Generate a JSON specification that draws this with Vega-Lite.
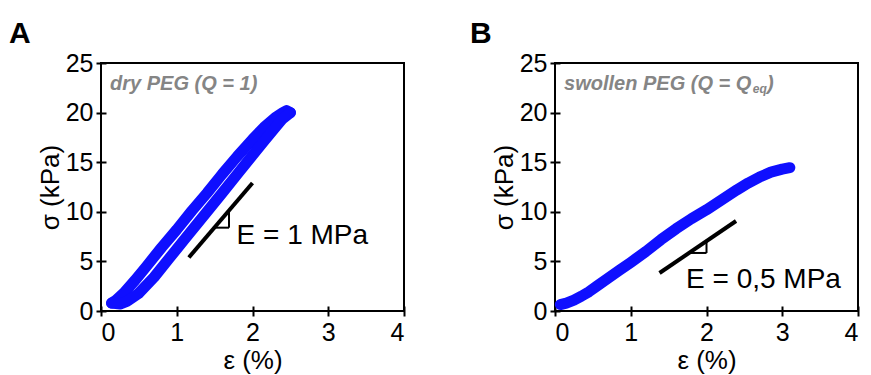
{
  "$schema": "https://vega.github.io/schema/vega-lite/v6.json",
  "padding": {"left": 8, "top": 18, "right": 5, "bottom": 5},
  "background": "white",
  "spacing": 63,
  "config": {
    "view": {"stroke": "black", "strokeWidth": 2},
    "font": "Liberation Sans",
    "axis": {"grid": false, "domain": false, "tickColor": "black", "labelColor": "black", "titleColor": "black", "labelFont": "Liberation Sans", "titleFont": "Liberation Sans", "labelFontSize": 25, "titleFontSize": 26, "titleFontWeight": "normal"}
  },
  "datasets": {
    "curveA": [
      {"branch": "unload", "strain": 0.14, "stress": 0.8},
      {"branch": "unload", "strain": 0.2, "stress": 1.1},
      {"branch": "unload", "strain": 0.3, "stress": 1.8},
      {"branch": "unload", "strain": 0.45, "stress": 3.1},
      {"branch": "unload", "strain": 0.6, "stress": 4.5},
      {"branch": "unload", "strain": 0.8, "stress": 6.4},
      {"branch": "unload", "strain": 1.0, "stress": 8.2},
      {"branch": "unload", "strain": 1.2, "stress": 10.1},
      {"branch": "unload", "strain": 1.4, "stress": 11.9},
      {"branch": "unload", "strain": 1.6, "stress": 13.8},
      {"branch": "unload", "strain": 1.8, "stress": 15.6},
      {"branch": "unload", "strain": 2.0, "stress": 17.3},
      {"branch": "unload", "strain": 2.15, "stress": 18.5},
      {"branch": "unload", "strain": 2.3, "stress": 19.5},
      {"branch": "unload", "strain": 2.4, "stress": 20.0},
      {"branch": "unload", "strain": 2.45, "stress": 20.2},
      {"branch": "unload", "strain": 2.5, "stress": 20.0},
      {"branch": "load", "strain": 0.14, "stress": 0.8},
      {"branch": "load", "strain": 0.25, "stress": 0.7},
      {"branch": "load", "strain": 0.35, "stress": 1.0},
      {"branch": "load", "strain": 0.5, "stress": 1.8},
      {"branch": "load", "strain": 0.7, "stress": 3.4},
      {"branch": "load", "strain": 0.9, "stress": 5.3},
      {"branch": "load", "strain": 1.1, "stress": 7.2},
      {"branch": "load", "strain": 1.41, "stress": 10.1},
      {"branch": "load", "strain": 1.6, "stress": 11.9},
      {"branch": "load", "strain": 1.8, "stress": 13.8},
      {"branch": "load", "strain": 2.0, "stress": 15.7},
      {"branch": "load", "strain": 2.15, "stress": 17.1},
      {"branch": "load", "strain": 2.3, "stress": 18.5},
      {"branch": "load", "strain": 2.4, "stress": 19.4},
      {"branch": "load", "strain": 2.5, "stress": 20.0}
    ],
    "curveB": [
      {"strain": 0.07, "stress": 0.65},
      {"strain": 0.15, "stress": 0.8},
      {"strain": 0.25, "stress": 1.1},
      {"strain": 0.35, "stress": 1.5},
      {"strain": 0.45, "stress": 1.95},
      {"strain": 0.55, "stress": 2.5},
      {"strain": 0.7, "stress": 3.3},
      {"strain": 0.85, "stress": 4.1},
      {"strain": 1.0, "stress": 4.9},
      {"strain": 1.2, "stress": 6.0},
      {"strain": 1.4, "stress": 7.2},
      {"strain": 1.6, "stress": 8.3},
      {"strain": 1.8, "stress": 9.3},
      {"strain": 2.0, "stress": 10.2},
      {"strain": 2.2, "stress": 11.2},
      {"strain": 2.4, "stress": 12.2},
      {"strain": 2.55, "stress": 12.9},
      {"strain": 2.7, "stress": 13.5},
      {"strain": 2.85, "stress": 14.0},
      {"strain": 3.0, "stress": 14.3},
      {"strain": 3.1, "stress": 14.45}
    ],
    "slopeA": [{"x1": 1.16, "y1": 5.4, "x2": 2.0, "y2": 12.9}],
    "legsA": [
      {"x1": 1.5, "y1": 8.4, "x2": 1.69, "y2": 8.4},
      {"x1": 1.69, "y1": 8.4, "x2": 1.69, "y2": 10.1}
    ],
    "slopeB": [{"x1": 1.38, "y1": 3.83, "x2": 2.39, "y2": 9.07}],
    "legsB": [
      {"x1": 1.77, "y1": 5.85, "x2": 2.0, "y2": 5.85},
      {"x1": 2.0, "y1": 5.85, "x2": 2.0, "y2": 7.05}
    ],
    "noteA": [{"x": 0.12, "y": 22.3, "label": "dry PEG (Q = 1)"}],
    "modA": [{"x": 1.79, "y": 6.75, "label": "E = 1 MPa"}],
    "noteB": [
      {"x": 0.12, "y": 22.3, "label": "swollen PEG (Q = Q"},
      {"x": 2.8, "y": 22.3, "label": ")"}
    ],
    "subB": [{"x": 2.61, "y": 21.95, "label": "eq"}],
    "modB": [{"x": 1.73, "y": 2.3, "label": "E = 0,5 MPa"}]
  },
  "hconcat": [
    {
      "width": 303,
      "height": 248,
      "title": {"text": "A", "anchor": "start", "frame": "group", "dx": -92, "fontSize": 30, "fontWeight": "bold", "font": "Liberation Sans", "color": "black", "offset": 2},
      "layer": [
        {
          "data": {"name": "curveA"},
          "mark": {"type": "line", "color": "#0f0fff", "strokeWidth": 11, "strokeCap": "round", "strokeJoin": "round"},
          "encoding": {
            "x": {"field": "strain", "type": "quantitative", "scale": {"domain": [0, 4], "nice": false}, "axis": {"title": "ε (%)", "values": [0, 0.5, 1, 1.5, 2, 2.5, 3, 3.5, 4], "labelExpr": "datum.value % 1 ? '' : datum.label", "tickSize": {"condition": {"test": "datum.value % 1 !== 0", "value": 7}, "value": 10}, "tickWidth": 2, "offset": -5, "labelPadding": 4, "titlePadding": 2, "format": "d"}},
            "y": {"field": "stress", "type": "quantitative", "scale": {"domain": [0, 25], "nice": false}, "axis": {"title": "σ (kPa)", "values": [0, 2.5, 5, 7.5, 10, 12.5, 15, 17.5, 20, 22.5, 25], "labelExpr": "datum.value % 5 ? '' : datum.label", "tickSize": {"condition": {"test": "datum.value % 5 !== 0", "value": 7}, "value": 10}, "tickWidth": 2, "offset": -5, "labelPadding": 3, "titlePadding": 2, "format": "d"}},
            "detail": {"field": "branch"}
          }
        },
        {
          "data": {"name": "slopeA"},
          "mark": {"type": "rule", "color": "black", "strokeWidth": 4},
          "encoding": {
            "x": {"field": "x1", "type": "quantitative"},
            "y": {"field": "y1", "type": "quantitative"},
            "x2": {"field": "x2"},
            "y2": {"field": "y2"}
          }
        },
        {
          "data": {"name": "legsA"},
          "mark": {"type": "rule", "color": "black", "strokeWidth": 2},
          "encoding": {
            "x": {"field": "x1", "type": "quantitative"},
            "y": {"field": "y1", "type": "quantitative"},
            "x2": {"field": "x2"},
            "y2": {"field": "y2"}
          }
        },
        {
          "data": {"name": "noteA"},
          "mark": {"type": "text", "align": "left", "baseline": "alphabetic", "font": "Liberation Sans", "fontSize": 20, "fontWeight": "bold", "fontStyle": "italic", "color": "#858585"},
          "encoding": {
            "x": {"field": "x", "type": "quantitative"},
            "y": {"field": "y", "type": "quantitative"},
            "text": {"field": "label"}
          }
        },
        {
          "data": {"name": "modA"},
          "mark": {"type": "text", "align": "left", "baseline": "alphabetic", "font": "Liberation Sans", "fontSize": 28, "color": "black"},
          "encoding": {
            "x": {"field": "x", "type": "quantitative"},
            "y": {"field": "y", "type": "quantitative"},
            "text": {"field": "label"}
          }
        }
      ]
    },
    {
      "width": 303,
      "height": 248,
      "title": {"text": "B", "anchor": "start", "frame": "group", "dx": -85, "fontSize": 30, "fontWeight": "bold", "font": "Liberation Sans", "color": "black", "offset": 2},
      "layer": [
        {
          "data": {"name": "curveB"},
          "mark": {"type": "line", "color": "#0f0fff", "strokeWidth": 11, "strokeCap": "round", "strokeJoin": "round"},
          "encoding": {
            "x": {"field": "strain", "type": "quantitative", "scale": {"domain": [0, 4], "nice": false}, "axis": {"title": "ε (%)", "values": [0, 0.5, 1, 1.5, 2, 2.5, 3, 3.5, 4], "labelExpr": "datum.value % 1 ? '' : datum.label", "tickSize": {"condition": {"test": "datum.value % 1 !== 0", "value": 7}, "value": 10}, "tickWidth": 2, "offset": -5, "labelPadding": 4, "titlePadding": 2, "format": "d"}},
            "y": {"field": "stress", "type": "quantitative", "scale": {"domain": [0, 25], "nice": false}, "axis": {"title": "σ (kPa)", "values": [0, 2.5, 5, 7.5, 10, 12.5, 15, 17.5, 20, 22.5, 25], "labelExpr": "datum.value % 5 ? '' : datum.label", "tickSize": {"condition": {"test": "datum.value % 5 !== 0", "value": 7}, "value": 10}, "tickWidth": 2, "offset": -5, "labelPadding": 3, "titlePadding": 2, "format": "d"}}
          }
        },
        {
          "data": {"name": "slopeB"},
          "mark": {"type": "rule", "color": "black", "strokeWidth": 4},
          "encoding": {
            "x": {"field": "x1", "type": "quantitative"},
            "y": {"field": "y1", "type": "quantitative"},
            "x2": {"field": "x2"},
            "y2": {"field": "y2"}
          }
        },
        {
          "data": {"name": "legsB"},
          "mark": {"type": "rule", "color": "black", "strokeWidth": 2},
          "encoding": {
            "x": {"field": "x1", "type": "quantitative"},
            "y": {"field": "y1", "type": "quantitative"},
            "x2": {"field": "x2"},
            "y2": {"field": "y2"}
          }
        },
        {
          "data": {"name": "noteB"},
          "mark": {"type": "text", "align": "left", "baseline": "alphabetic", "font": "Liberation Sans", "fontSize": 20, "fontWeight": "bold", "fontStyle": "italic", "color": "#858585"},
          "encoding": {
            "x": {"field": "x", "type": "quantitative"},
            "y": {"field": "y", "type": "quantitative"},
            "text": {"field": "label"}
          }
        },
        {
          "data": {"name": "subB"},
          "mark": {"type": "text", "align": "left", "baseline": "alphabetic", "font": "Liberation Sans", "fontSize": 12, "fontWeight": "bold", "fontStyle": "italic", "color": "#858585"},
          "encoding": {
            "x": {"field": "x", "type": "quantitative"},
            "y": {"field": "y", "type": "quantitative"},
            "text": {"field": "label"}
          }
        },
        {
          "data": {"name": "modB"},
          "mark": {"type": "text", "align": "left", "baseline": "alphabetic", "font": "Liberation Sans", "fontSize": 28, "color": "black"},
          "encoding": {
            "x": {"field": "x", "type": "quantitative"},
            "y": {"field": "y", "type": "quantitative"},
            "text": {"field": "label"}
          }
        }
      ]
    }
  ]
}
